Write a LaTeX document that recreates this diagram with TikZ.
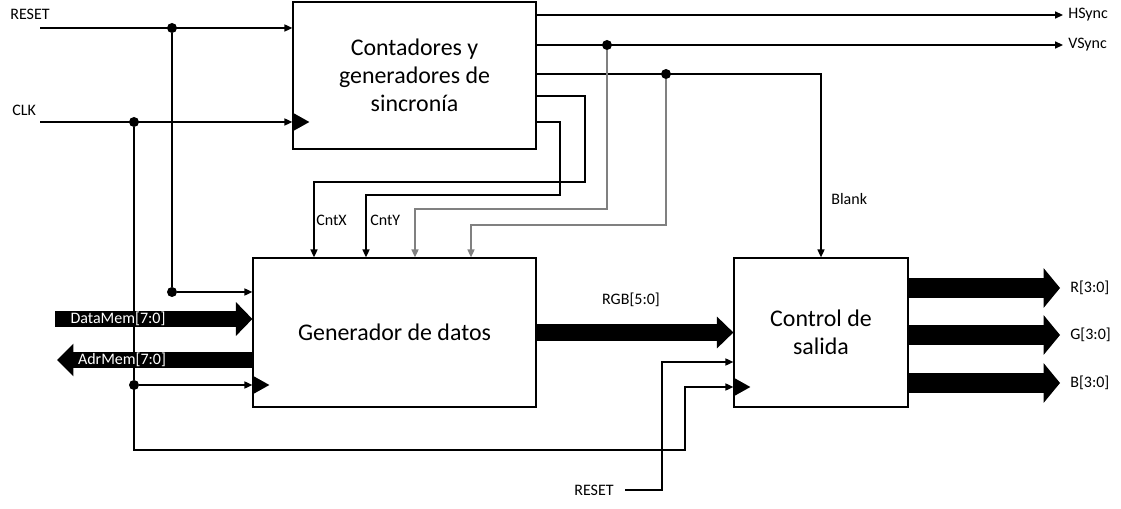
\documentclass[tikz,border=0pt]{standalone}
\usepackage{fontspec}
\setmainfont{Carlito}
\usetikzlibrary{arrows.meta,positioning,calc}

\tikzset{
  block/.style={draw, line width=0.75pt, align=center, inner sep=0pt,
    font=\fontsize{13.6}{15.9}\selectfont},
  wire/.style={line width=0.8pt},
  sig/.style={wire, -{Triangle[length=4.5pt,width=4pt]}},
  gsig/.style={sig, draw=black!50},
  lbl/.style={font=\fontsize{9.1}{10}\selectfont, inner sep=0pt},
  jdot/.style={circle, fill, inner sep=0pt, minimum size=0.2cm},
  bus/.style 2 args={line width=#1,
    -{Triangle[length=0.33cm,width=#2,line width=0pt]}},
  clk/.pic={\fill (0,-9.5) -- (17,0) -- (0,9.5) -- cycle;}
}

\begin{document}
\begin{tikzpicture}[x=0.02cm, y=-0.02cm]
\useasboundingbox (0,0) rectangle (1121,509);

% bloques
\node[block, minimum width=4.86cm, minimum height=2.94cm] (cnt) at (414.5,75.5)
  {Contadores y\\generadores de\\sincronía};
\node[block, minimum width=5.66cm, minimum height=2.98cm] (gen) at (394.5,332.5)
  {Generador de datos};
\node[block, minimum width=3.48cm, minimum height=2.98cm] (ctl) at (821,332.5)
  {Control de\\salida};

% entradas
\node[lbl, anchor=west] (rstlbl) at (10,14) {RESET};
\coordinate (rstin) at (40,28);
\node[lbl, anchor=west] (clklbl) at (12,110) {CLK};
\coordinate (clkin) at (40,122);

\node[jdot] (j1) at (172,28) {};
\node[jdot] (j2) at (172,292) {};
\node[jdot] (j3) at (134,122) {};
\node[jdot] (j4) at (134,385) {};

\draw[sig] (rstin) -- (cnt.west |- rstin);
\draw[sig] (clkin) -- (cnt.west |- clkin);
\draw[wire] (j1) -- (j2);
\draw[sig] (j2) -- (gen.west |- j2);
\draw[wire] (j3) -- (j4);

% buses de memoria
\coordinate (dm) at (55,319);
\coordinate (am) at (57,360);
\draw[bus={0.32cm}{0.68cm}] (dm) -- (gen.west |- dm);
\draw[bus={0.34cm}{0.66cm}] (gen.west |- am) -- (am);
\node[lbl, text=white] (dmlbl) at (118,319) {DataMem[7:0]};
\node[lbl, text=white] (amlbl) at (122,360) {AdrMem[7:0]};

% reloj
\coordinate (lp1) at (134,450);
\coordinate (lp2) at (685,387);
\draw[sig] (j4) -- (gen.west |- j4);
\draw[sig] (j4.center) -- (lp1) -| (lp2) -- (ctl.west |- lp2);

% reset inferior
\node[lbl, anchor=east] (rst2lbl) at (614,490) {RESET};
\coordinate (rst2) at (625,490);
\coordinate (rc) at (662,362);
\draw[sig] (rst2) -| (rc) -- (ctl.west |- rc);

\pic at (cnt.west |- clkin) {clk};
\pic at (gen.west |- j4) {clk};
\pic at (ctl.west |- lp2) {clk};

% sincronismos
\node[lbl, anchor=west] (hslbl) at (1068,15) {HSync};
\node[lbl, anchor=west] (vslbl) at (1068,45) {VSync};
\draw[sig, shorten >=0.1cm] (cnt.east |- hslbl.west) -- (hslbl.west);
\draw[sig, shorten >=0.1cm] (cnt.east |- vslbl.west) -- (vslbl.west);

\node[jdot] (j5) at (607,45) {};
\node[jdot] (j6) at (666,74) {};
\coordinate (bk) at (821,74);
\draw[sig] (cnt.east |- bk) -| (ctl.north);
\node[lbl, anchor=west] (blklbl) at (831,199) {Blank};

% contadores
\coordinate (cxa) at (585,96);
\coordinate (cxb) at (314,182);
\coordinate (cya) at (560,122);
\coordinate (cyb) at (366,195);
\coordinate (vy) at (415,209);
\coordinate (bl) at (471,225);
\draw[sig] (cnt.east |- cxa) -- (cxa) |- (cxb) -- (cxb |- gen.north);
\draw[sig] (cnt.east |- cya) -- (cya) |- (cyb) -- (cyb |- gen.north);
\draw[gsig] (j5) |- (vy) -- (vy |- gen.north);
\draw[gsig] (j6) |- (bl) -- (bl |- gen.north);
\node[lbl, anchor=west] (cxlbl) at (316,220) {CntX};
\node[lbl, anchor=west] (cylbl) at (370,220) {CntY};

% RGB
\draw[bus={0.36cm}{0.64cm}] (gen.east) -- (ctl.west);
\node[lbl] (rgblbl) at (631,300) {RGB[5:0]};

\node[lbl, anchor=west] (rlbl) at (1070,288) {R[3:0]};
\node[lbl, anchor=west] (glbl) at (1070,335) {G[3:0]};
\node[lbl, anchor=west] (blbl) at (1070,383) {B[3:0]};
\foreach \c in {rlbl,glbl,blbl}
  \draw[bus={0.40cm}{0.80cm}, shorten >=0.2cm] (ctl.east |- \c.west) -- (\c.west);
\end{tikzpicture}
\end{document}
